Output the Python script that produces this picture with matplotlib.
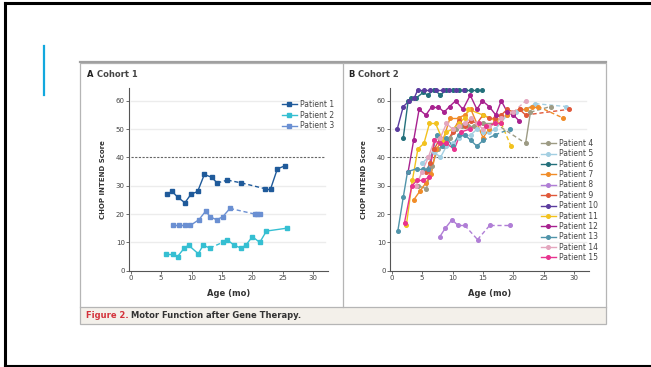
import matplotlib.pyplot as plt
from matplotlib.lines import Line2D
from matplotlib.patches import Rectangle

plt.rcParams['font.family'] = ['Liberation Sans Narrow', 'DejaVu Sans']

W, H = 651, 367

# ---- Cohort 1 ----
p1_x = [5.9, 6.8, 7.7, 8.9, 9.9, 11.0, 12.1, 13.3, 14.2, 15.9, 18.2, 22.0, 23.0, 24.1, 25.3]
p1_y = [27, 28, 26, 24, 27, 28, 34, 33, 31, 32, 31, 29, 29, 36, 37]
p1_dash = [8, 9, 10]

p2_x = [5.8, 6.9, 7.7, 8.8, 9.5, 11.1, 11.9, 13.0, 15.1, 15.8, 17.0, 18.1, 18.9, 20.0, 21.2, 22.3, 25.6]
p2_y = [6, 6, 5, 8, 9, 6, 9, 8, 10, 11, 9, 8, 9, 12, 10, 14, 15]
p2_dash = [7]

p3_x = [7.0, 8.0, 8.9, 9.8, 11.2, 12.3, 13.1, 14.1, 15.1, 16.3, 20.4, 20.8, 21.2]
p3_y = [16, 16, 16, 16, 18, 21, 19, 18, 19, 22, 20, 20, 20]
p3_dash = [9]

cohort1 = [
    ('Patient 1', '#1f5a9a', p1_x, p1_y, p1_dash),
    ('Patient 2', '#35bfd2', p2_x, p2_y, p2_dash),
    ('Patient 3', '#6a8fd2', p3_x, p3_y, p3_dash),
]

# ---- Cohort 2 ----
p4_x = [4.3, 5.7, 6.6, 7.6, 8.6, 9.6, 10.6, 11.6, 12.6, 13.6, 15.0, 17.0, 22.0, 22.8, 26.1]
p4_y = [30, 29, 37, 43, 44, 47, 50, 51, 51, 51, 52, 52, 45, 56, 58]
p5_x = [5.0, 6.0, 7.0, 8.0, 9.0, 10.0, 11.0, 12.0, 13.0, 14.0, 15.0, 16.0, 17.0, 19.0, 20.5, 22.0, 23.6, 28.6]
p5_y = [38, 40, 42, 40, 44, 45, 47, 48, 48, 50, 49, 49, 50, 55, 56, 57, 59, 58]
p6_x = [1.9, 2.7, 3.2, 4.0, 5.2, 5.9, 7.0, 8.0, 9.0, 10.0, 11.0, 12.0, 13.0, 14.0, 14.8]
p6_y = [47, 60, 61, 61, 63, 62, 64, 62, 64, 64, 64, 64, 64, 64, 64]
p7_x = [3.6, 4.6, 5.6, 6.5, 7.3, 8.4, 9.6, 11.0, 12.0, 13.0, 14.0, 15.0, 16.0, 17.0, 18.0,
        19.0, 20.0, 21.0, 22.0, 23.1, 24.0, 28.1]
p7_y = [25, 28, 31, 34, 43, 46, 54, 54, 55, 57, 52, 47, 50, 53, 54, 55, 56, 57, 57, 58, 58, 54]
p8_x = [7.9, 8.8, 9.9, 10.9, 12.0, 14.1, 16.1, 19.4]
p8_y = [12, 15, 18, 16, 16, 11, 16, 16]
p9_x = [5.6, 6.3, 7.0, 8.0, 9.0, 10.0, 11.0, 12.0, 13.0, 14.0, 15.0, 16.0, 17.0, 18.0, 19.0,
        20.0, 21.0, 22.0, 29.1]
p9_y = [35, 38, 43, 47, 45, 49, 53, 51, 53, 52, 55, 54, 54, 55, 57, 56, 57, 55, 57]
p10_x = [0.9, 1.9, 2.9, 3.7, 4.3, 5.3, 6.3, 7.2, 8.5, 9.4, 10.6, 11.8]
p10_y = [50, 58, 60, 61, 64, 64, 64, 64, 64, 64, 64, 64]
p11_x = [2.4, 3.4, 4.3, 5.3, 6.2, 7.2, 8.4, 9.0, 10.0, 11.0, 12.0, 12.6, 15.0, 18.0, 19.6]
p11_y = [16, 32, 43, 45, 52, 52, 46, 49, 50, 52, 54, 57, 55, 52, 44]
p12_x = [2.7, 3.6, 4.5, 5.6, 6.6, 7.6, 8.6, 9.5, 10.5, 11.7, 12.9, 14.0, 14.9, 16.0, 17.1,
         18.0, 19.0, 20.0, 20.9]
p12_y = [35, 46, 57, 55, 58, 58, 56, 58, 60, 57, 62, 57, 60, 58, 55, 60, 56, 55, 53]
p13_x = [1.0, 1.9, 2.6, 4.1, 5.2, 6.0, 7.4, 8.2, 9.0, 10.0, 11.0, 12.0, 13.0, 14.0, 15.0, 17.0, 19.4]
p13_y = [14, 26, 35, 36, 36, 36, 48, 44, 47, 44, 48, 48, 46, 44, 46, 48, 50]
p14_x = [4.0, 5.0, 6.0, 7.0, 8.0, 9.0, 10.0, 11.0, 12.0, 13.0, 14.0, 15.0, 16.0, 17.0, 18.0, 20.0, 22.0]
p14_y = [30, 35, 40, 46, 47, 52, 50, 51, 52, 54, 52, 50, 51, 52, 54, 56, 60]
p15_x = [2.1, 3.3, 4.2, 5.2, 6.1, 7.0, 7.9, 8.9, 10.3, 11.4, 12.8, 14.4, 15.5, 17.0, 18.0]
p15_y = [17, 30, 32, 32, 33, 46, 45, 45, 43, 49, 50, 52, 51, 52, 52]

cohort2 = [
    ('Patient 4', '#9d9b84', p4_x, p4_y, [11, 13]),
    ('Patient 5', '#a3cfe2', p5_x, p5_y, [16]),
    ('Patient 6', '#23707b', p6_x, p6_y, []),
    ('Patient 7', '#f08c28', p7_x, p7_y, [20]),
    ('Patient 8', '#b07ed6', p8_x, p8_y, [4, 5, 6]),
    ('Patient 9', '#e0583a', p9_x, p9_y, [17]),
    ('Patient 10', '#5b3c9f', p10_x, p10_y, []),
    ('Patient 11', '#f2c21e', p11_x, p11_y, [13]),
    ('Patient 12', '#a8218f', p12_x, p12_y, []),
    ('Patient 13', '#5094aa', p13_x, p13_y, [14, 15]),
    ('Patient 14', '#e4a6be', p14_x, p14_y, [15]),
    ('Patient 15', '#e8338f', p15_x, p15_y, []),
]


def fx(x):
    return x / W


def fy(y):
    return 1 - y / H


def draw_patient(ax, color, xs, ys, dashed, marker):
    for i in range(len(xs) - 1):
        ls = (0, (3, 2)) if i in dashed else '-'
        ax.plot(xs[i:i + 2], ys[i:i + 2], color=color, lw=1.0, ls=ls, zorder=3)
    ax.plot(xs, ys, ls='none', marker=marker, ms=2.6, color=color, zorder=4)


def style_axes(ax, dash_end):
    ax.set_xlim(-0.3, 32.4)
    ax.set_ylim(0, 64.5)
    for s in ['top', 'right']:
        ax.spines[s].set_visible(False)
    for s in ['left', 'bottom']:
        ax.spines[s].set_color('#555555')
        ax.spines[s].set_linewidth(0.8)
    ax.set_xticks(range(0, 31, 5))
    ax.set_yticks(range(0, 61, 10))
    ax.tick_params(labelsize=5, length=2, width=0.6, color='#555555', labelcolor='#444444', pad=1)
    for g in [10, 20, 30, 50, 60]:
        ax.plot([0, 32], [g, g], color='#ececec', lw=1.0, zorder=1)
    ax.plot([0, dash_end], [40, 40], color='#666666', lw=0.8, ls=(0, (2, 1.3)), zorder=2)
    ax.set_xlabel('Age (mo)', fontsize=6, fontweight='bold', color='#333333', labelpad=6)
    ax.set_ylabel('CHOP INTEND Score', fontsize=5, fontweight='bold', color='#333333', labelpad=7)
    ax.patch.set_alpha(0)


fig = plt.figure(figsize=(W / 100, H / 100), dpi=100)

# slide frame
fig.add_artist(Line2D([fx(5), fx(651)], [fy(3), fy(3)], color='black', lw=2.2))
fig.add_artist(Line2D([fx(5), fx(5)], [fy(3), fy(366)], color='black', lw=2.2))
fig.add_artist(Line2D([fx(5), fx(651)], [fy(365.5), fy(365.5)], color='black', lw=1.5))
fig.add_artist(Line2D([fx(44), fx(44)], [fy(46), fy(95)], color='#12a8de', lw=1.6))

# figure box
fig.add_artist(Rectangle((fx(80), fy(324)), fx(606) - fx(80), fy(307) - fy(324),
                         facecolor='#f3f0ea', edgecolor='none'))
fig.add_artist(Rectangle((fx(80), fy(324)), fx(606) - fx(80), fy(63) - fy(324),
                         facecolor='none', edgecolor='#b5b5b5', lw=0.9))
fig.add_artist(Line2D([fx(80), fx(606)], [fy(62), fy(62)], color='#a0a0a0', lw=1.6))
fig.add_artist(Line2D([fx(80), fx(606)], [fy(307), fy(307)], color='#b5b5b5', lw=0.9))
fig.add_artist(Line2D([fx(343), fx(343)], [fy(63), fy(307)], color='#b5b5b5', lw=0.9))

renderer = fig.canvas.get_renderer()
cap1 = fig.text(fx(86), fy(318), 'Figure 2.', fontsize=6, fontweight='bold', color='#d4333c',
                va='baseline')
cap_end = cap1.get_window_extent(renderer).x1
fig.text(cap_end / W + 2 / W, fy(318), 'Motor Function after Gene Therapy.', fontsize=6,
         fontweight='bold', color='#333333', va='baseline')

fig.text(fx(87), fy(77), 'A', fontsize=6, fontweight='bold', color='#222222', va='baseline')
fig.text(fx(97), fy(77), 'Cohort 1', fontsize=6, fontweight='bold', color='#444444', va='baseline')
fig.text(fx(348), fy(77), 'B', fontsize=6, fontweight='bold', color='#222222', va='baseline')
fig.text(fx(358), fy(77), 'Cohort 2', fontsize=6, fontweight='bold', color='#444444', va='baseline')

ax_a = fig.add_axes([128.9 / W, (H - 270.7) / H, 199 / W, 182.6 / H])
ax_b = fig.add_axes([389.9 / W, (H - 270.7) / H, 199 / W, 182.6 / H])

style_axes(ax_a, 32)
style_axes(ax_b, 24.2)

handles = []
for name, color, xs, ys, dashed in cohort1:
    draw_patient(ax_a, color, xs, ys, dashed, 's')
    handles.append(Line2D([], [], color=color, lw=1.0, marker='s', ms=2.6, label=name))
ax_a.legend(handles=handles, loc='upper left', bbox_to_anchor=(fx(282), fy(100)),
            bbox_transform=fig.transFigure, frameon=False, fontsize=5.5, handlelength=1.9,
            handletextpad=0.4, labelspacing=0.22, borderpad=0, borderaxespad=0,
            labelcolor='#444444')

handles = []
for name, color, xs, ys, dashed in cohort2:
    draw_patient(ax_b, color, xs, ys, dashed, 'o')
    handles.append(Line2D([], [], color=color, lw=1.0, marker='o', ms=2.6, label=name))
ax_b.legend(handles=handles, loc='upper left', bbox_to_anchor=(fx(541), fy(139)),
            bbox_transform=fig.transFigure, frameon=False, fontsize=5.5, handlelength=1.9,
            handletextpad=0.4, labelspacing=0.18, borderpad=0, borderaxespad=0,
            labelcolor='#444444')

fig.savefig('out.png', dpi=100)
